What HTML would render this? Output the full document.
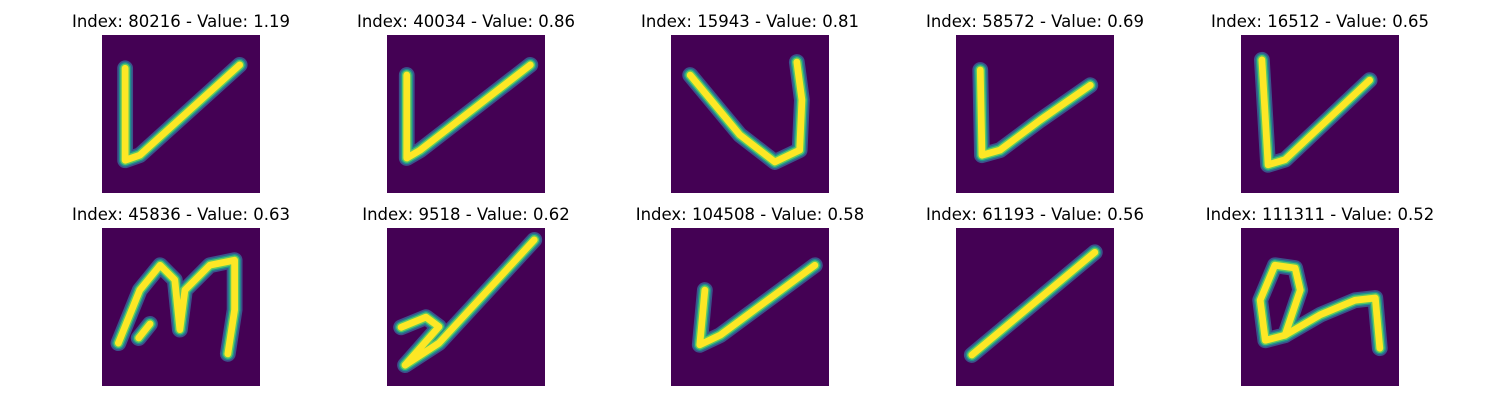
<!DOCTYPE html>
<html><head><meta charset="utf-8"><style>
body{margin:0;background:#fff;width:1500px;height:400px;overflow:hidden}
svg{display:block}
text{font-family:"DejaVu Sans","Liberation Sans",sans-serif;font-size:16.5px;fill:#000}
</style></head><body>
<svg id="fig" width="1500" height="400"></svg>
<script>
const indices=[80216,40034,15943,58572,16512,45836,9518,104508,61193,111311];
const values=["1.19","0.86","0.81","0.69","0.65","0.63","0.62","0.58","0.56","0.52"];
const strokes=[
 [[[4.1,5.9],[4.1,22.2],[6.7,21.3],[24.4,5.3]]],
 [[[3.5,7.1],[3.5,21.8],[5.9,20.4],[25.4,5.3]]],
 [[[3.4,7.1],[12.2,17.7],[18.4,22.5],[22.8,20.4],[23.2,11.5],[22.3,4.8]]],
 [[[4.3,6.2],[4.6,21.3],[7.8,20.4],[14.9,15.1],[23.8,8.9]]],
 [[[3.7,4.4],[4.8,23],[7.8,22.1],[22.8,8]]],
 [[[2.9,20.4],[6.7,11],[10.3,6.6],[12.9,9.2],[13.8,18],[14.7,11],[19.1,6.6],[23.5,5.7],[23.5,14.5],[22.3,22.3]],[[8.5,17],[6.5,19.5]]],
 [[[2.5,17.6],[6.9,15.8],[9.2,17.5],[3.2,24.3],[9.2,20.4],[26.1,2.1]]],
 [[[6,11],[5.1,20.7],[8.7,19],[25.5,6.6]]],
 [[[2.8,22.5],[24.6,4.3]]],
 [[[6,6.6],[3.4,12.8],[4.3,19.9],[7.8,19],[10.5,11],[9.6,7.1],[6,6.6]],[[7.8,19],[14,15.4],[20.2,12.8],[23.8,12.4],[24.6,21.3]]]
];
const NS="http://www.w3.org/2000/svg";
const fig=document.getElementById('fig');
const colX=[102,387,671,956,1241], rowY=[35,228], S=158, sc=S/28;
function mk(t,a){const e=document.createElementNS(NS,t);for(const k in a)e.setAttribute(k,a[k]);return e;}
indices.forEach((idx,i)=>{
 const x0=colX[i%5], y0=rowY[Math.floor(i/5)];
 const g=mk('g',{});
 
 
 const t=mk('text',{x:x0+S/2,y:y0-8,'text-anchor':'middle'});
 t.textContent='Index: '+idx+' - Value: '+values[i];
 
 
 g.appendChild(t);
 const r=mk('rect',{x:x0,y:y0,width:S,height:S,fill:'#440154'});
 
 
 g.appendChild(r);
 const cp=mk('clipPath',{id:'c'+i});cp.appendChild(mk('rect',{x:x0,y:y0,width:S,height:S}));g.appendChild(cp);
 const sg=mk('g',{'clip-path':'url(#c'+i+')'});
 [['#3b528b',2.8],['#21918c',2.2],['#5ec962',1.7],['#fde725',1.2]].forEach(([c,w])=>{
  strokes[i].forEach(pl=>{
   const p=mk('polyline',{points:pl.map(q=>(x0+q[0]*sc)+','+(y0+q[1]*sc)).join(' '),fill:'none',stroke:c,'stroke-width':w*sc,'stroke-linejoin':'round','stroke-linecap':'round'});
   
   
   sg.appendChild(p);
  });
 });
 g.appendChild(sg);
 fig.appendChild(g);
});
</script>
</body></html>
